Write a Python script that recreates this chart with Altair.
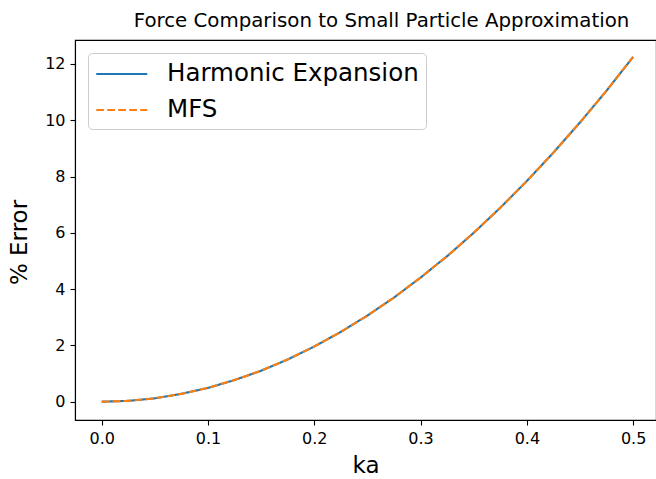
import altair as alt
import pandas as pd

# Percent error of each force model against the small-particle approximation
ka = [0.0, 0.025, 0.05, 0.075, 0.1, 0.125, 0.15, 0.175, 0.2, 0.225, 0.25,
      0.275, 0.3, 0.325, 0.35, 0.375, 0.4, 0.425, 0.45, 0.475, 0.5]
harmonic_err = [0.0, 0.03, 0.12, 0.28, 0.49, 0.77, 1.10, 1.50, 1.96, 2.48, 3.06,
                3.70, 4.41, 5.17, 6.00, 6.89, 7.84, 8.85, 9.92, 11.05, 12.25]
mfs_err = [0.0, 0.03, 0.12, 0.28, 0.49, 0.77, 1.10, 1.50, 1.96, 2.48, 3.06,
           3.70, 4.41, 5.17, 6.00, 6.89, 7.84, 8.85, 9.92, 11.05, 12.25]

series_names = ["Harmonic Expansion", "MFS"]
series_colors = ["#1f77b4", "#ff7f0e"]
series_dashes = [[1, 0], [7.7, 3.3]]
x_ticks = [0.0, 0.1, 0.2, 0.3, 0.4, 0.5]
y_ticks = [0, 2, 4, 6, 8, 10, 12]

df = pd.concat([
    pd.DataFrame({"ka": ka, "err": harmonic_err, "method": series_names[0]}),
    pd.DataFrame({"ka": ka, "err": mfs_err, "method": series_names[1]}),
])

FONT = "DejaVu Sans"

# long, flat legend swatch: a line starting at the symbol box's left edge
SWATCH = "M-1,0H3"

legend = alt.Legend(title=None, orient="none", legendX=13, legendY=13)

chart = alt.Chart(df).mark_line(strokeWidth=2.1).encode(
    x=alt.X("ka:Q",
            scale=alt.Scale(domain=[-0.0251, 0.5215], nice=False, zero=False),
            axis=alt.Axis(title="ka", values=x_ticks, format=".1f",
                          titleFontSize=23, titlePadding=8)),
    y=alt.Y("err:Q",
            scale=alt.Scale(domain=[-0.65, 12.85], nice=False, zero=False),
            axis=alt.Axis(title="% Error", values=y_ticks, format="d",
                          titleFontSize=23, titlePadding=13, titleY=202)),
    color=alt.Color("method:N",
                    scale=alt.Scale(domain=series_names, range=series_colors),
                    legend=legend),
    strokeDash=alt.StrokeDash("method:N",
                              scale=alt.Scale(domain=series_names, range=series_dashes),
                              legend=legend),
    order=alt.Order("ka:Q"),
).properties(
    width=581,
    height=380,
    title=alt.Title("Force Comparison to Small Particle Approximation",
                    fontSize=19.8, fontWeight="normal", font=FONT,
                    color="black", anchor="middle", offset=9, dx=16),
    autosize=alt.AutoSizeParams(type="none"),
    padding={"left": 75, "top": 40, "right": 0, "bottom": 59},
    background="white",
).configure_view(
    stroke="black", strokeWidth=1.1,
).configure_axis(
    grid=False,
    domainColor="black", domainWidth=1.1,
    tickColor="black", tickWidth=1.1, tickSize=5,
    labelFont=FONT, labelFontSize=16, labelColor="black", labelPadding=5,
    titleFont=FONT, titleFontWeight="normal", titleColor="black",
).configure_legend(
    labelFont=FONT, labelFontSize=24.5, labelColor="black", labelLimit=400,
    symbolType=SWATCH, symbolSize=650, symbolStrokeWidth=2.1,
    labelOffset=44, rowPadding=10, padding=7,
    fillColor="rgba(255,255,255,0.8)", strokeColor="#cccccc",
    cornerRadius=4,
)

chart.save("out.html", embed_options={"renderer": "svg", "actions": False})
